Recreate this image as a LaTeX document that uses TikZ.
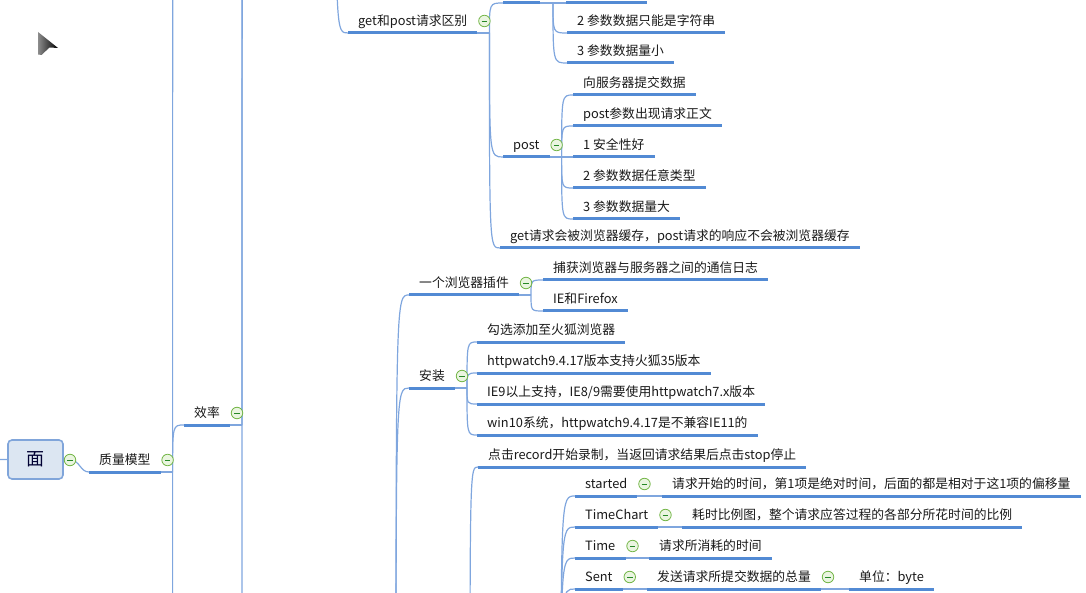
\documentclass[tikz,border=0pt]{standalone}
\usepackage{fontspec}
\newfontfamily\cjk{Noto Sans CJK SC}
\usetikzlibrary{positioning, calc}
\definecolor{mapblue}{HTML}{528AD4}
\definecolor{linkblue}{HTML}{7FA6DE}
\definecolor{rootfill}{HTML}{DCE6F2}
\definecolor{rootline}{HTML}{80A5DA}
\definecolor{foldgreen}{HTML}{74B648}
\definecolor{foldfill}{HTML}{EAF5E0}

\begin{document}
\begin{tikzpicture}[
    x=1pt, y=-1pt,
    topic/.style={anchor=south west, font=\cjk\fontsize{12.8}{15}\selectfont, text=black!90,
        inner xsep=10pt, inner ysep=4.3pt, text height=9.8pt, text depth=2.9pt},
    root/.style={rectangle, rounded corners=4pt, draw=rootline, fill=rootfill,
        line width=1.6pt, minimum width=55pt, minimum height=39pt,
        font=\cjk\fontsize{18}{20}\selectfont, text=black!80!blue},
    fold/.style={circle, draw=foldgreen, fill=foldfill, line width=0.8pt,
        minimum size=11.5pt, inner sep=0pt,
        path picture={\draw[black!45!green!70!gray, line width=0.9pt]
            ([xshift=3pt]path picture bounding box.west) --
            ([xshift=-3pt]path picture bounding box.east);}},
    uline/.style={mapblue, line width=3pt},
    link/.style={linkblue, line width=1.2pt}
]
    \useasboundingbox (0,0) rectangle (1086,593);
    \clip (0,0) rectangle (1086,593);

    % pointer
    \shade[left color=black!45, right color=black] (38,32) -- (58,48) -- (49.5,47.5)
        -- (41.5,55) -- (38,54.5) -- cycle;

    % root and first level
    \node[root] (face) at (35.5,459.5) {面};
    \node[topic] (qm) at (89,472) {质量模型};
    \node[topic] (xl) at (184,425) {效率};

    % get / post
    \node[topic] (gp) at (348,33) {get和post请求区别};
    \node[topic] (gs2) at (567,33) {2 参数数据只能是字符串};
    \node[topic] (gs3) at (567,63) {3 参数数据量小};
    \node[topic] (post) at (503,157) {post};
    \node[topic] (ps1) at (573,95) {向服务器提交数据};
    \node[topic] (ps2) at (573,126) {post参数出现请求正文};
    \node[topic] (ps3) at (573,157) {1 安全性好};
    \node[topic] (ps4) at (573,188) {2 参数数据任意类型};
    \node[topic] (ps5) at (573,219) {3 参数数据量大};
    \node[topic] (gcache) at (500,248) {get请求会被浏览器缓存，post请求的响应不会被浏览器缓存};

    % httpwatch
    \node[topic] (plug) at (409,295) {一个浏览器插件};
    \node[topic] (cap) at (543,280) {捕获浏览器与服务器之间的通信日志};
    \node[topic] (ief) at (543,311) {IE和Firefox};
    \node[topic] (inst) at (409,388) {安装};
    \node[topic] (i1) at (477,342) {勾选添加至火狐浏览器};
    \node[topic] (i2) at (477,373) {httpwatch9.4.17版本支持火狐35版本};
    \node[topic] (i3) at (477,404) {IE9以上支持，IE8/9需要使用httpwatch7.x版本};
    \node[topic] (i4) at (477,435) {win10系统，httpwatch9.4.17是不兼容IE11的};
    \node[topic] (rec) at (478,467) {点击record开始录制，当返回请求结果后点击stop停止};
    \node[topic] (started) at (575,496) {started};
    \node[topic] (sd) at (662,496) {请求开始的时间，第1项是绝对时间，后面的都是相对于这1项的偏移量};
    \node[topic] (tchart) at (575,527) {TimeChart};
    \node[topic] (td) at (682,527) {耗时比例图，整个请求应答过程的各部分所花时间的比例};
    \node[topic] (time) at (575,558) {Time};
    \node[topic] (tmd) at (649,558) {请求所消耗的时间};
    \node[topic] (sent) at (575,589) {Sent};
    \node[topic] (snd) at (647,589) {发送请求所提交数据的总量};
    \node[topic] (unit) at (849,589) {单位：byte};

    % branches that run off the page
    \coordinate (up) at (-30,460);
    \coordinate (qmA) at (186,-500);
    \coordinate (qmB) at (186,1100);
    \coordinate (xlA) at (255,-300);
    \coordinate (xlB) at (255,-900);
    \coordinate (xlC) at (255,1000);
    \coordinate (gpP) at (336,-200);
    \coordinate (get) at (503,3);
    \coordinate (get-e) at (540,3);
    \coordinate (get-k) at (553,3);
    \coordinate (get1) at (566,3);
    \coordinate (get1-e) at (647,3);
    \coordinate (hwK) at (396,760);
    \coordinate (useK) at (470,760);
    \coordinate (colK) at (561,760);

    % forks
    \foreach \n in {qm, xl, gp, post, plug, inst, started, tchart, time, sent, snd} {
        \coordinate (\n-k) at ($(\n.south east)+(12,0)$);
        \draw[link] (\n.south east) -- (\n-k);
    }
    \draw[link] (get-e) -- (get-k);

    % connectors
    \draw[link] (up) -- (face.west);
    \draw[link] (face.east) -- (70,460) .. controls (80,460) and (80,472) .. (qm.south west);
    \foreach \a/\b in {qm/xl, gp/post, gp/gcache, get/gs2, get/gs3,
            post/ps1, post/ps2, post/ps3, post/ps4, post/ps5,
            plug/cap, plug/ief, inst/i1, inst/i2, inst/i3, inst/i4,
            started/sd, tchart/td, time/tmd, sent/snd, snd/unit}
        \draw[link] (\a-k) .. controls (\a-k |- \b.south west) .. (\b.south west);
    \foreach \a/\b in {qm-k/qmA, qm-k/qmB, xl-k/xlA, xl-k/xlB, xl-k/xlC, gp-k/get, get-k/get1}
        \draw[link] (\a) .. controls (\a |- \b) .. (\b);
    \foreach \a/\b in {gpP/gp, hwK/plug, hwK/inst, useK/rec,
            colK/started, colK/tchart, colK/time, colK/sent}
        \draw[link] (\a) .. controls (\a |- \b.south west) .. (\b.south west);

    % underlines
    \foreach \n in {qm, xl, gp, gs2, gs3, post, ps1, ps2, ps3, ps4, ps5, gcache,
            plug, cap, ief, inst, i1, i2, i3, i4, rec,
            started, sd, tchart, td, time, tmd, sent, snd, unit}
        \draw[uline] (\n.south west) -- (\n.south east);
    \draw[uline] (get) -- (get-e);
    \draw[uline] (get1) -- (get1-e);

    % fold marks
    \node[fold] (face-f) at (70,460) {};
    \foreach \n in {qm, xl, gp, post, plug, inst, started, tchart, time, sent, snd}
        \node[fold] (\n-f) at ($(\n.south east)+(7,-12)$) {};
\end{tikzpicture}
\end{document}
